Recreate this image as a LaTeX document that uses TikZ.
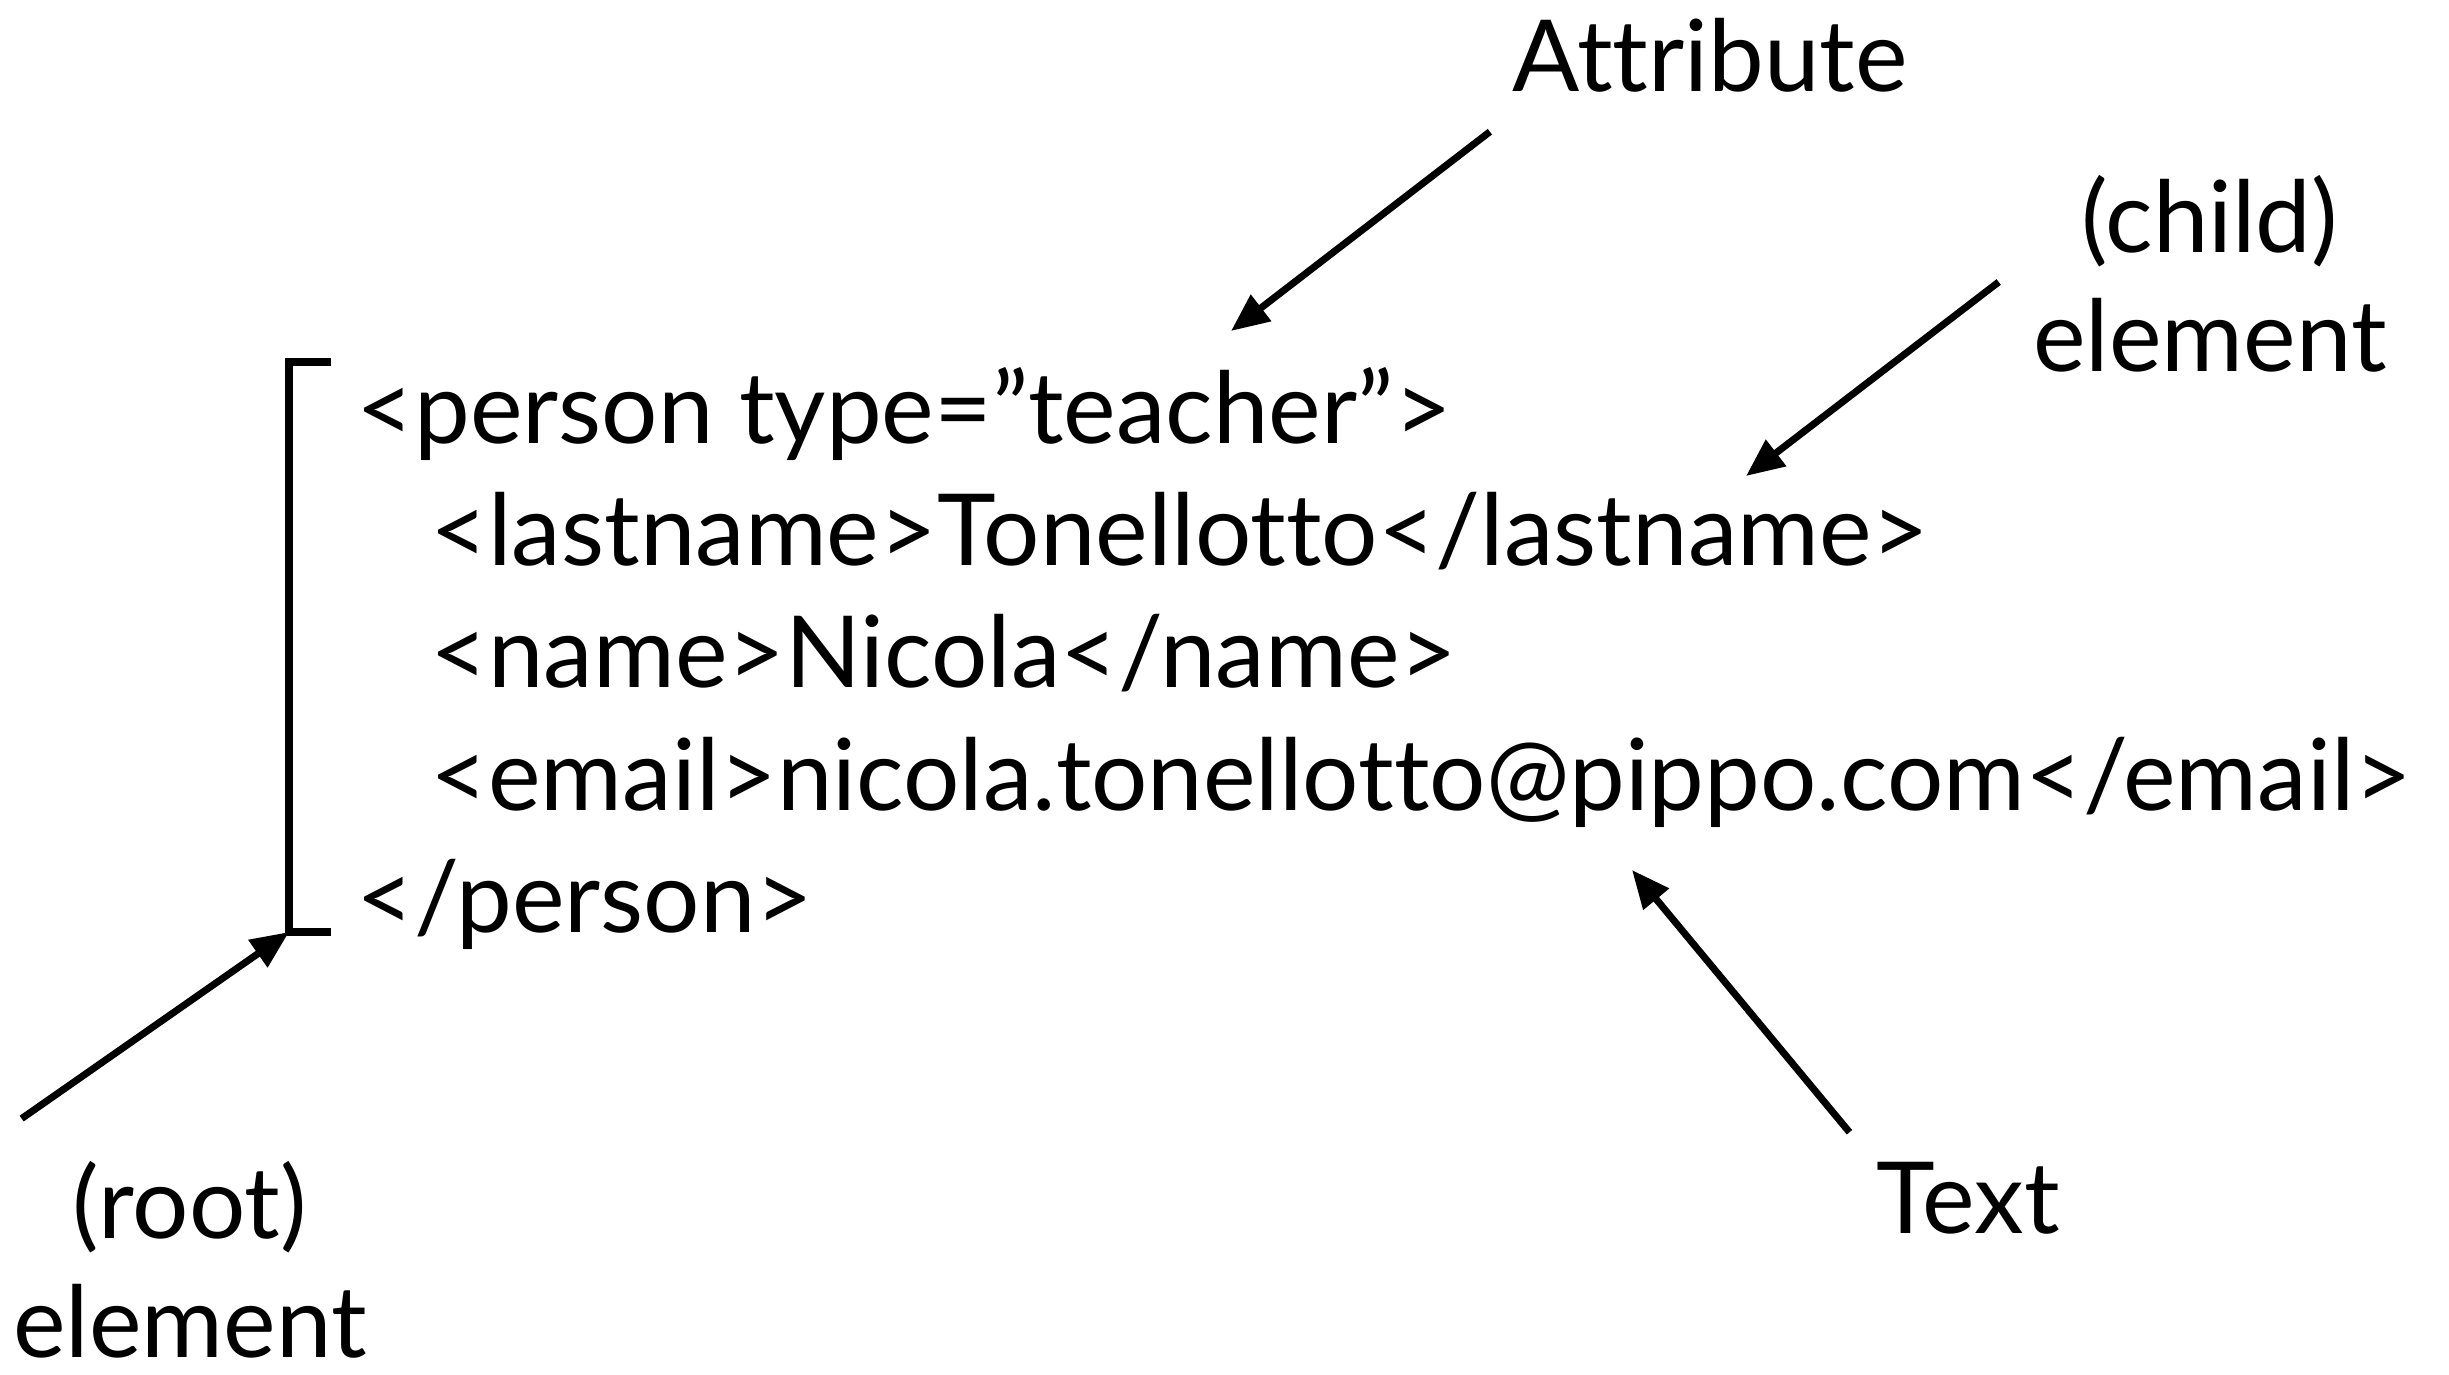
\documentclass[tikz,border=0pt]{standalone}
\usepackage{fontspec}
\setmainfont{Lato}[Ligatures=NoCommon]
\usetikzlibrary{arrows.meta}

\tikzset{
  code/.style={font=\fontsize{28.3}{34}\selectfont, inner sep=0pt, anchor=base west},
  lbl/.style={font=\fontsize{28.3}{34}\selectfont, inner sep=0pt, align=center},
  pointer/.style={line width=2pt, -{Triangle[length=3.8mm,width=3.2mm]}},
  bracket/.style={line width=2pt},
}

\begin{document}
\begin{tikzpicture}
    \useasboundingbox (0,0) rectangle (24.49,-13.75);

    % xml document
    \node[code] (l1) at (3.56,-4.44) {<person type=”teacher”>};
    \node[code] (l2) at (4.30,-5.66) {<lastname>Tonellotto</lastname>};
    \node[code] (l3) at (4.30,-6.88) {<name>Nicola</name>};
    \node[code] (l4) at (4.30,-8.10) {<email>nicola.tonellotto@pippo.com</email>};
    \node[code] (l5) at (3.56,-9.32) {</person>};

    % root bracket
    \coordinate (rtop) at (2.89,-3.62);
    \coordinate (rbot) at (2.89,-9.32);
    \draw[bracket] ([xshift=4.2mm]rtop) -- (rtop) -- (rbot) -- ([xshift=4.2mm]rbot);

    % labels
    \node[lbl] (attr) at (17.10,-0.55) {Attribute};
    \node[lbl] (child) at (22.10,-2.74) {(child)\\element};
    \node[lbl] (root) at (1.90,-12.60) {(root)\\element};
    \node[lbl] (txt) at (19.68,-11.98) {Text};

    % arrow tips
    \coordinate (attrtip) at (12.31,-3.31);
    \coordinate (childtip) at (17.46,-4.76);
    \coordinate (texttip) at (16.32,-8.70);

    % arrows
    \draw[pointer] ([shift={(-0.22,-0.39)}]attr.south west) -- (attrtip);
    \draw[pointer] ([shift={(-0.34,-0.08)}]child.west) -- (childtip);
    \draw[pointer] ([shift={(0.09,0.42)}]root.north west) -- (rbot);
    \draw[pointer] ([shift={(-0.26,0.29)}]txt.north west) -- (texttip);

\end{tikzpicture}
\end{document}
